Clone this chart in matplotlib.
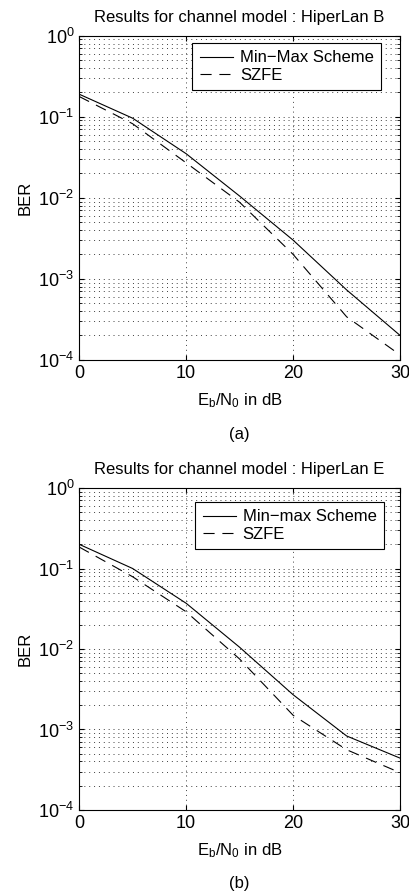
import numpy as np
import matplotlib
matplotlib.use('Agg')
import matplotlib.pyplot as plt
from matplotlib.ticker import LogLocator, NullFormatter

plt.rcParams['font.family'] = ['Liberation Sans', 'DejaVu Sans']
plt.rcParams['mathtext.fontset'] = 'custom'
plt.rcParams['mathtext.rm'] = 'Liberation Sans'
plt.rcParams['mathtext.it'] = 'Liberation Sans'

# Eb/N0 in dB
snr = [0, 5, 10, 15, 20, 25, 30]

# (a) HiperLan B
minmax_b = [0.19, 0.096, 0.035, 0.0105, 0.003, 7.3e-4, 2.0e-4]
szfe_b = [0.178, 0.082, 0.027, 0.0088, 0.002, 3.4e-4, 1.15e-4]

# (b) HiperLan E
minmax_e = [0.2, 0.1, 0.037, 0.0105, 0.0027, 8.3e-4, 4.4e-4]
szfe_e = [0.185, 0.079, 0.029, 0.0075, 0.0015, 5.6e-4, 2.9e-4]

panels = [
    ("Results for channel model : HiperLan B", "Min\u2212Max Scheme", minmax_b, szfe_b, "(a)"),
    ("Results for channel model : HiperLan E", "Min\u2212max Scheme", minmax_e, szfe_e, "(b)"),
]
# axes boxes [left, bottom, width, height] in figure fraction
boxes = [[0.193, 0.597, 0.783, 0.363], [0.193, 0.093, 0.783, 0.3605]]
legend_anchor = [(0.941, 0.978), (0.95, 0.957)]
caption_y = [0.513, 0.011]

fig = plt.figure(figsize=(4.10, 8.93), dpi=100)

for (title, lab, mm, sz, cap), box, anc, cy in zip(panels, boxes, legend_anchor, caption_y):
    ax = fig.add_axes(box)
    ax.semilogy(snr, mm, 'k-', lw=0.8, label=lab)
    ax.semilogy(snr, sz, 'k--', lw=0.8, dashes=(10, 7), label='SZFE')
    ax.set_xlim(0, 30)
    ax.set_ylim(1e-4, 1)
    ax.set_xticks([0, 10, 20, 30])
    ax.yaxis.set_major_locator(LogLocator(base=10, numticks=10))
    ax.yaxis.set_minor_locator(LogLocator(base=10, subs=np.arange(2, 10), numticks=10))
    ax.yaxis.set_minor_formatter(NullFormatter())
    ax.tick_params(direction='in', which='both', top=True, right=True, labelsize=13)
    ax.tick_params(which='minor', length=2)
    ax.grid(True, which='major', axis='both', ls=(0, (1, 4)), color='0.25', lw=0.7)
    ax.grid(True, which='minor', axis='y', ls=(0, (1, 4)), color='0.25', lw=0.7)
    for s in ax.spines.values():
        s.set_linewidth(0.8)
    ax.set_title(title, fontsize=12, pad=10)
    ax.set_ylabel('BER', fontsize=12)
    ax.set_xlabel(r'E$_\mathrm{b}$/N$_\mathrm{0}$ in dB', fontsize=12, labelpad=7)
    leg = ax.legend(loc='upper right', bbox_to_anchor=anc, fontsize=12, fancybox=False,
                    framealpha=1, edgecolor='k', handlelength=2.0, handletextpad=0.4,
                    borderaxespad=0, labelspacing=0.15, borderpad=0.45)
    leg.get_frame().set_linewidth(0.8)
    fig.text(box[0] + box[2] / 2, cy, cap, ha='center', va='center', fontsize=12)

fig.savefig('out.png', dpi=100)
